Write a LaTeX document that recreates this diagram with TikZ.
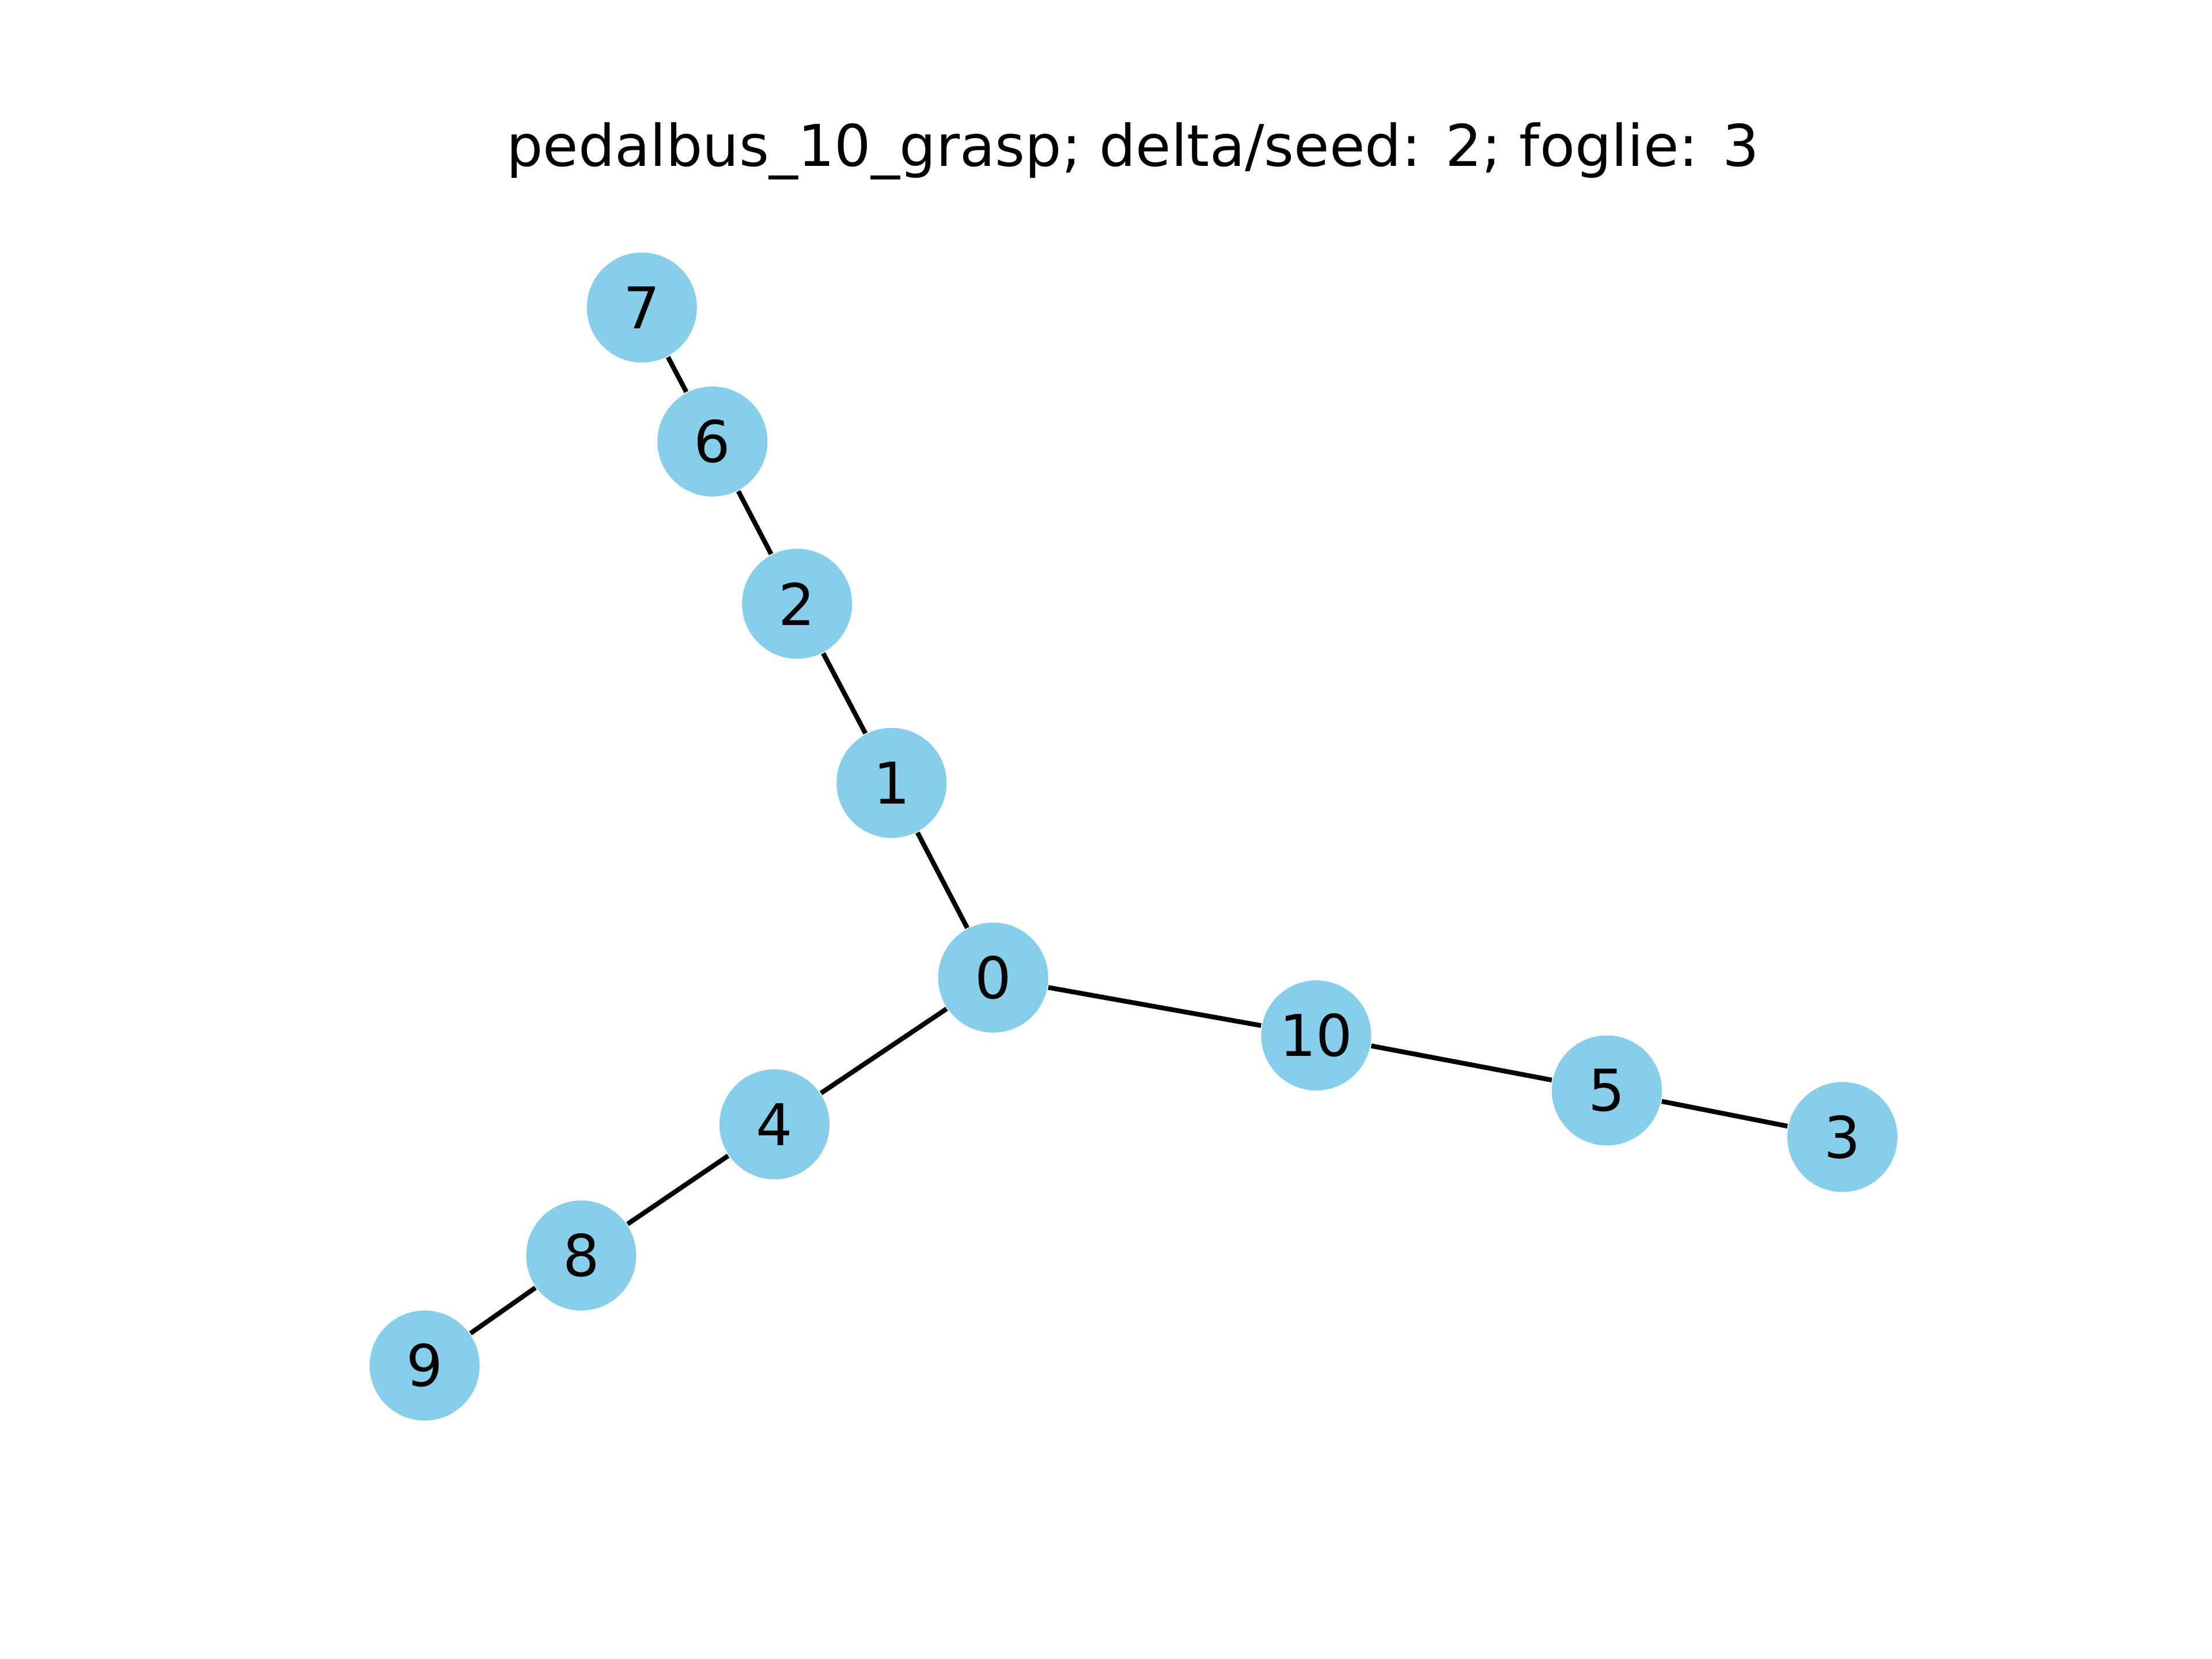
\documentclass[tikz,border=0pt]{standalone}
\usepackage{fontspec}
\setmainfont{DejaVu Sans}
\definecolor{skyblue}{HTML}{87CEEB}
\begin{document}
\begin{tikzpicture}\tikzset{vertex/.style = {shape=circle, fill=skyblue, minimum size=0.78cm, inner sep = 0pt, font=\fontsize{11.6}{13}\selectfont}}

		\useasboundingbox (0,0) rectangle (15.68,11.76);

		\node (T) at (8.03,10.69) {\fontsize{11.6}{13}\selectfont pedalbus\_10\_grasp; delta/seed: 2; foglie: 3};

		\node[vertex] (V_0) at (7.04,4.83) {0};
		\node[vertex] (V_1) at (6.32,6.21) {1};
		\node[vertex] (V_2) at (5.65,7.48) {2};
		\node[vertex] (V_3) at (13.06,3.70) {3};
		\node[vertex] (V_4) at (5.49,3.79) {4};
		\node[vertex] (V_5) at (11.39,4.03) {5};
		\node[vertex] (V_6) at (5.05,8.63) {6};
		\node[vertex] (V_7) at (4.55,9.58) {7};
		\node[vertex] (V_8) at (4.12,2.86) {8};
		\node[vertex] (V_9) at (3.01,2.08) {9};
		\node[vertex] (V_10) at (9.33,4.42) {10};

		\draw[line width=0.96pt] (V_7) -- (V_6) -- (V_2) -- (V_1) -- (V_0) -- (V_10) -- (V_5) -- (V_3);
		\draw[line width=0.96pt] (V_0) -- (V_4) -- (V_8) -- (V_9);
	\end{tikzpicture}
\end{document}
